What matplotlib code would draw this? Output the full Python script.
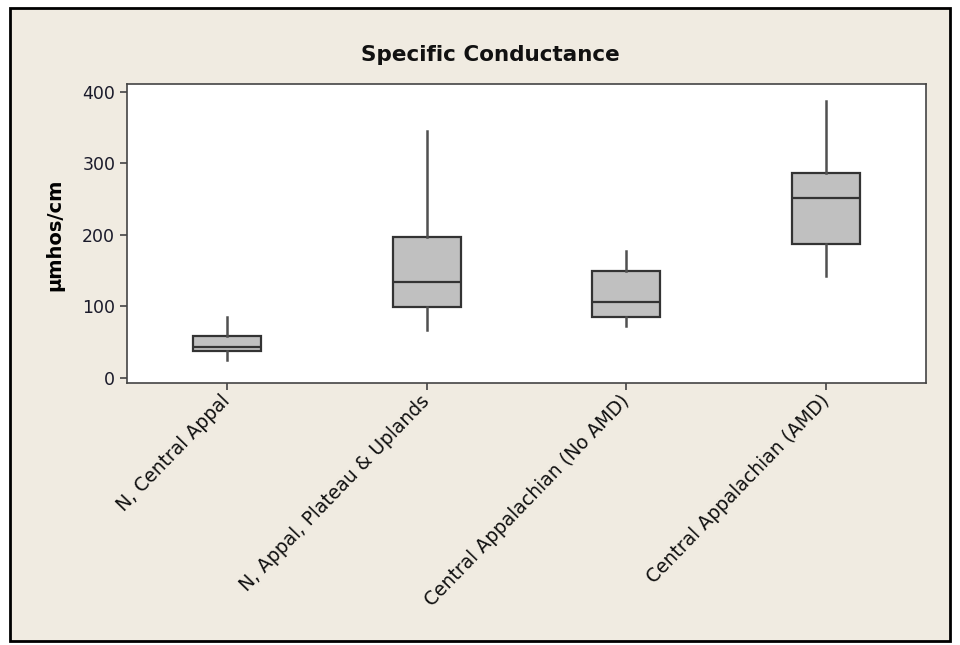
import matplotlib

matplotlib.use("Agg")
import matplotlib.pyplot as plt
from matplotlib.patches import Rectangle

categories = [
    "N, Central Appal",
    "N, Appal, Plateau & Uplands",
    "Central Appalachian (No AMD)",
    "Central Appalachian (AMD)",
]
whisker_low = [25, 67, 73, 143]
q1 = [38, 99, 85, 187]
median = [43, 134, 106, 252]
q3 = [59, 197, 150, 287]
whisker_high = [85, 345, 178, 387]
y_ticks = [0, 100, 200, 300, 400]

BEIGE = "#F0EBE1"

fig = plt.figure(figsize=(9.6, 6.45), dpi=100)
fig.patch.set_facecolor("white")
fig.patches.append(
    Rectangle((10 / 960, 1 - 641 / 645), 940 / 960, 633 / 645,
              transform=fig.transFigure, facecolor=BEIGE, edgecolor="black",
              linewidth=2.0, zorder=-10)
)

ax = fig.add_axes([127 / 960, 1 - 383 / 645, 799 / 960, 299 / 645])
ax.set_zorder(2)
ax.set_facecolor("white")

stats = []
for i, name in enumerate(categories):
    stats.append({
        "label": name,
        "whislo": whisker_low[i],
        "q1": q1[i],
        "med": median[i],
        "q3": q3[i],
        "whishi": whisker_high[i],
        "fliers": [],
    })

ax.bxp(
    stats,
    positions=range(1, len(categories) + 1),
    widths=0.34,
    patch_artist=True,
    showcaps=False,
    boxprops=dict(facecolor="#C0C0C0", edgecolor="#333333", linewidth=1.6),
    medianprops=dict(color="#333333", linewidth=1.6),
    whiskerprops=dict(color="#505050", linewidth=1.8),
)

ax.set_xlim(0.5, 4.5)
ax.set_ylim(-7, 411)
ax.set_yticks(y_ticks)
ax.set_yticklabels([str(t) for t in y_ticks], fontsize=12.5, color="#1a1a2a")
ax.set_xticks(range(1, len(categories) + 1))
ax.set_xticklabels(categories, rotation=46, ha="right", va="center",
                   rotation_mode="anchor", fontsize=13.5, color="#111111")
ax.tick_params(axis="both", direction="out", length=5, width=1.2, color="#444444")
ax.tick_params(axis="x", pad=6)
for spine in ax.spines.values():
    spine.set_color("#444444")
    spine.set_linewidth(1.2)

ax.set_ylabel("µmhos/cm", fontsize=14, fontweight="bold")
ax.yaxis.set_label_coords(-0.079, 0.495)
fig.text(490 / 960, 1 - 55 / 645, "Specific Conductance", ha="center", va="center",
         fontsize=15.5, fontweight="bold", color="#111111", zorder=3)

fig.savefig("out.png", dpi=100, facecolor=fig.get_facecolor())
